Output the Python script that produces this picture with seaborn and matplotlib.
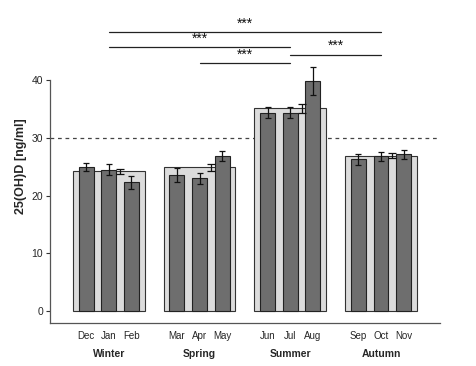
import matplotlib
matplotlib.use("Agg")
import matplotlib.pyplot as plt
import matplotlib.transforms as mtransforms
import seaborn as sns
import pandas as pd
import numpy as np

sns.set_style("white")
plt.rcParams['font.family'] = ['Liberation Sans', 'DejaVu Sans']

months = ["Dec", "Jan", "Feb", "Mar", "Apr", "May", "Jun", "Jul", "Aug", "Sep", "Oct", "Nov"]
month_vals = [25.0, 24.5, 22.3, 23.6, 23.05, 26.9, 34.4, 34.4, 39.9, 26.3, 26.8, 27.2]
month_err = [0.75, 1.0, 1.1, 1.15, 0.95, 0.9, 1.0, 1.0, 2.4, 0.95, 0.85, 0.8]
seasons = ["Winter", "Spring", "Summer", "Autumn"]
season_vals = [24.2, 24.9, 35.15, 26.95]
season_err = [0.4, 0.55, 0.75, 0.5]
sig_pairs = [("Jan", "Oct", 48.3), ("Jan", "Jul", 45.75), ("Apr", "Jul", 43.0), ("Jul", "Oct", 44.4)]
sig_label = "***"
ref_line = 30
yticks = [0, 10, 20, 30, 40]

# positions: 4 slots per season, 3 months each
month_pos = [4 * (i // 3) + (i % 3) for i in range(12)]
season_pos = [4 * s + 1 for s in range(4)]
pos_of = dict(zip(months, month_pos))

df_m = pd.DataFrame({"pos": month_pos, "val": month_vals, "label": months})
df_s = pd.DataFrame({"pos": season_pos, "val": season_vals, "label": seasons})

fig = plt.figure(figsize=(4.76, 3.66), dpi=100)
W, H = 476, 366
ax = fig.add_axes([50 / W, 43 / H, 390 / W, 313 / H])

sns.barplot(data=df_s, x="pos", y="val", native_scale=True, width=0.79,
            color="#dcdcdc", edgecolor="#333333", linewidth=0.8, saturation=1,
            errorbar=None, ax=ax, zorder=1)
sns.barplot(data=df_m, x="pos", y="val", native_scale=True, width=0.66,
            color="#6e6e6e", edgecolor="#222222", linewidth=0.8, saturation=1,
            errorbar=None, ax=ax, zorder=2)

ax.errorbar(month_pos, month_vals, yerr=month_err, fmt="none", ecolor="#111111",
            elinewidth=0.9, capsize=2.2, capthick=0.9, zorder=4)
ax.errorbar([p + 0.5 for p in season_pos], season_vals, yerr=season_err, fmt="none",
            ecolor="#111111", elinewidth=0.9, capsize=2.8, capthick=0.9, zorder=3)

ax.axhline(ref_line, color="#444444", linestyle=(0, (3, 3)), linewidth=0.9, zorder=0.5,
           xmin=0, xmax=(15.47 + 1.59) / (15.6 + 1.59))

for a, b, y in sig_pairs:
    x0, x1 = pos_of[a], pos_of[b]
    ax.plot([x0, x1], [y, y], color="#222222", linewidth=0.9, clip_on=False)
    ax.text((x0 + x1) / 2, y + 0.3, sig_label, ha="center", va="bottom", fontsize=10,
            color="#111111", clip_on=False)

ax.set_xlim(-1.59, 15.6)
ax.set_ylim(-2.08, 52.2)
ax.set_yticks(yticks)
ax.set_yticklabels([str(t) for t in yticks], fontsize=7.5)
ax.set_xticks(month_pos)
ax.set_xticklabels(months, fontsize=7)
ax.tick_params(axis="x", length=0, pad=6)
ax.tick_params(axis="y", length=3, width=0.8, pad=2, left=True, color="#333333")
ax.set_xlabel("")
ax.set_ylabel("25(OH)D [ng/ml]", fontsize=9, fontweight="bold", labelpad=3)

for sp in ["top", "right"]:
    ax.spines[sp].set_visible(False)
ax.spines["left"].set_bounds(-2.08, 40)
ax.spines["left"].set_color("#555555")
ax.spines["bottom"].set_color("#555555")
ax.spines["left"].set_linewidth(0.9)
ax.spines["bottom"].set_linewidth(0.9)

trans = mtransforms.blended_transform_factory(ax.transData, fig.transFigure)
for p, s in zip(season_pos, seasons):
    ax.text(p, 1 - 354 / H, s, transform=trans, ha="center", va="center",
            fontsize=7.5, fontweight="bold")

fig.savefig("out.png", dpi=100)
